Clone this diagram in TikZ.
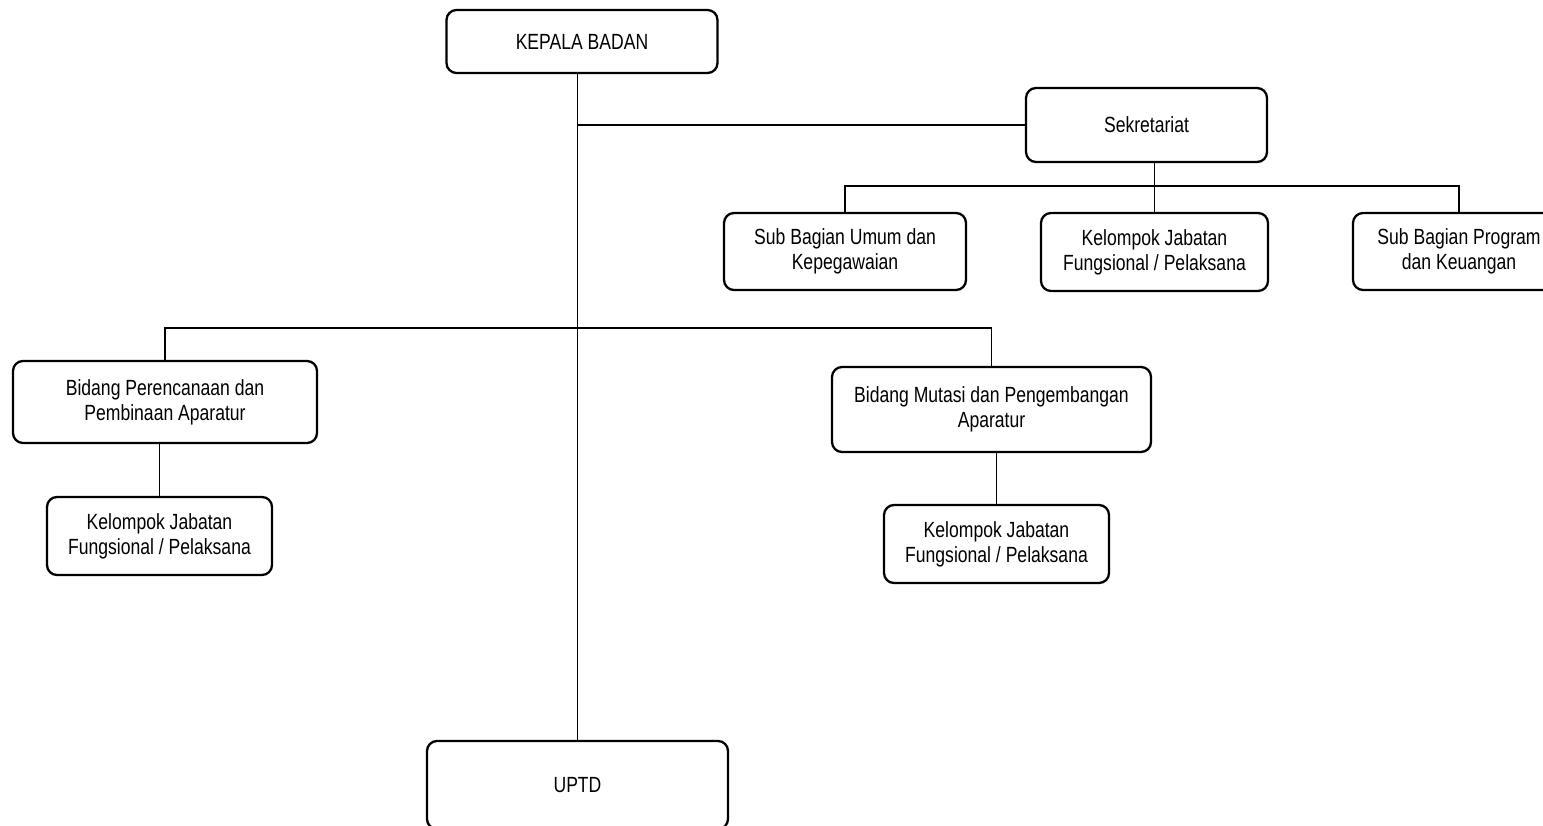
\documentclass[tikz,border=0pt]{standalone}
\usepackage{fontspec}
\setmainfont{Liberation Sans}[FakeStretch=0.8]
\usepackage{tikz}
\usetikzlibrary{positioning}

\tikzset{
	unitbox/.style={draw,
		rounded corners=0.2cm,
		line width=1.3pt,
		align=center,
		inner sep=0pt,
		font=\fontsize{12.5}{14.2}\selectfont
	},
	link/.style={line width=0.8pt}
}

\begin{document}
\begin{tikzpicture}

\useasboundingbox (0, 0) rectangle (30.86, -16.52);

% Kepala badan
\node [unitbox,
	minimum width=5.42cm,
	minimum height=1.26cm
] (kepala) at (11.64, -0.83) {KEPALA BADAN};

% Sekretariat
\node [unitbox,
	minimum width=4.82cm,
	minimum height=1.48cm
] (sekretariat) at (22.93, -2.50) {Sekretariat};

% Sub bagian umum
\node [unitbox,
	minimum width=4.84cm,
	minimum height=1.54cm
] (sub_umum) at (16.90, -5.03) {
Sub Bagian Umum dan\\
Kepegawaian
};

% Kelompok jabatan (sekretariat)
\node [unitbox,
	minimum width=4.54cm,
	minimum height=1.56cm
] (kel_sekr) at (23.09, -5.04) {
Kelompok Jabatan\\
Fungsional / Pelaksana
};

% Sub bagian program
\node [unitbox,
	minimum width=4.24cm,
	minimum height=1.54cm
] (sub_prog) at (29.18, -5.03) {
Sub Bagian Program\\
dan Keuangan
};

% Bidang perencanaan
\node [unitbox,
	minimum width=6.08cm,
	minimum height=1.64cm
] (bid_ren) at (3.30, -8.04) {
Bidang Perencanaan dan\\
Pembinaan Aparatur
};

% Kelompok jabatan (perencanaan)
\node [unitbox,
	minimum width=4.50cm,
	minimum height=1.56cm
] (kel_ren) at (3.19, -10.72) {
Kelompok Jabatan\\
Fungsional / Pelaksana
};

% Bidang mutasi
\node [unitbox,
	minimum width=6.38cm,
	minimum height=1.70cm
] (bid_mut) at (19.83, -8.19) {
Bidang Mutasi dan Pengembangan\\
Aparatur
};

% Kelompok jabatan (mutasi)
\node [unitbox,
	minimum width=4.50cm,
	minimum height=1.56cm
] (kel_mut) at (19.93, -10.88) {
Kelompok Jabatan\\
Fungsional / Pelaksana
};

% UPTD
\node [unitbox,
	minimum width=6.02cm,
	minimum height=1.76cm
] (uptd) at (11.55, -15.70) {UPTD};

% Bus lines
\coordinate (sekr_bus) at (0, -3.72);
\coordinate (bidang_bus) at (0, -6.56);

% Lines
\draw[link] (kepala.south -| uptd.north) -- (uptd.north);
\draw[link] (sekretariat.west) -- (sekretariat.west -| uptd.north);
\draw[link] (sekretariat.south -| kel_sekr.north) -- (kel_sekr.north);
\draw[link] (sub_umum.north) -- (sub_umum.north |- sekr_bus)
	-- (sub_prog.north |- sekr_bus) -- (sub_prog.north);
\draw[link] (bid_ren.north) -- (bid_ren.north |- bidang_bus)
	-- (bid_mut.north |- bidang_bus) -- (bid_mut.north);
\draw[link] (bid_ren.south -| kel_ren.north) -- (kel_ren.north);
\draw[link] (bid_mut.south -| kel_mut.north) -- (kel_mut.north);

\end{tikzpicture}
\end{document}
